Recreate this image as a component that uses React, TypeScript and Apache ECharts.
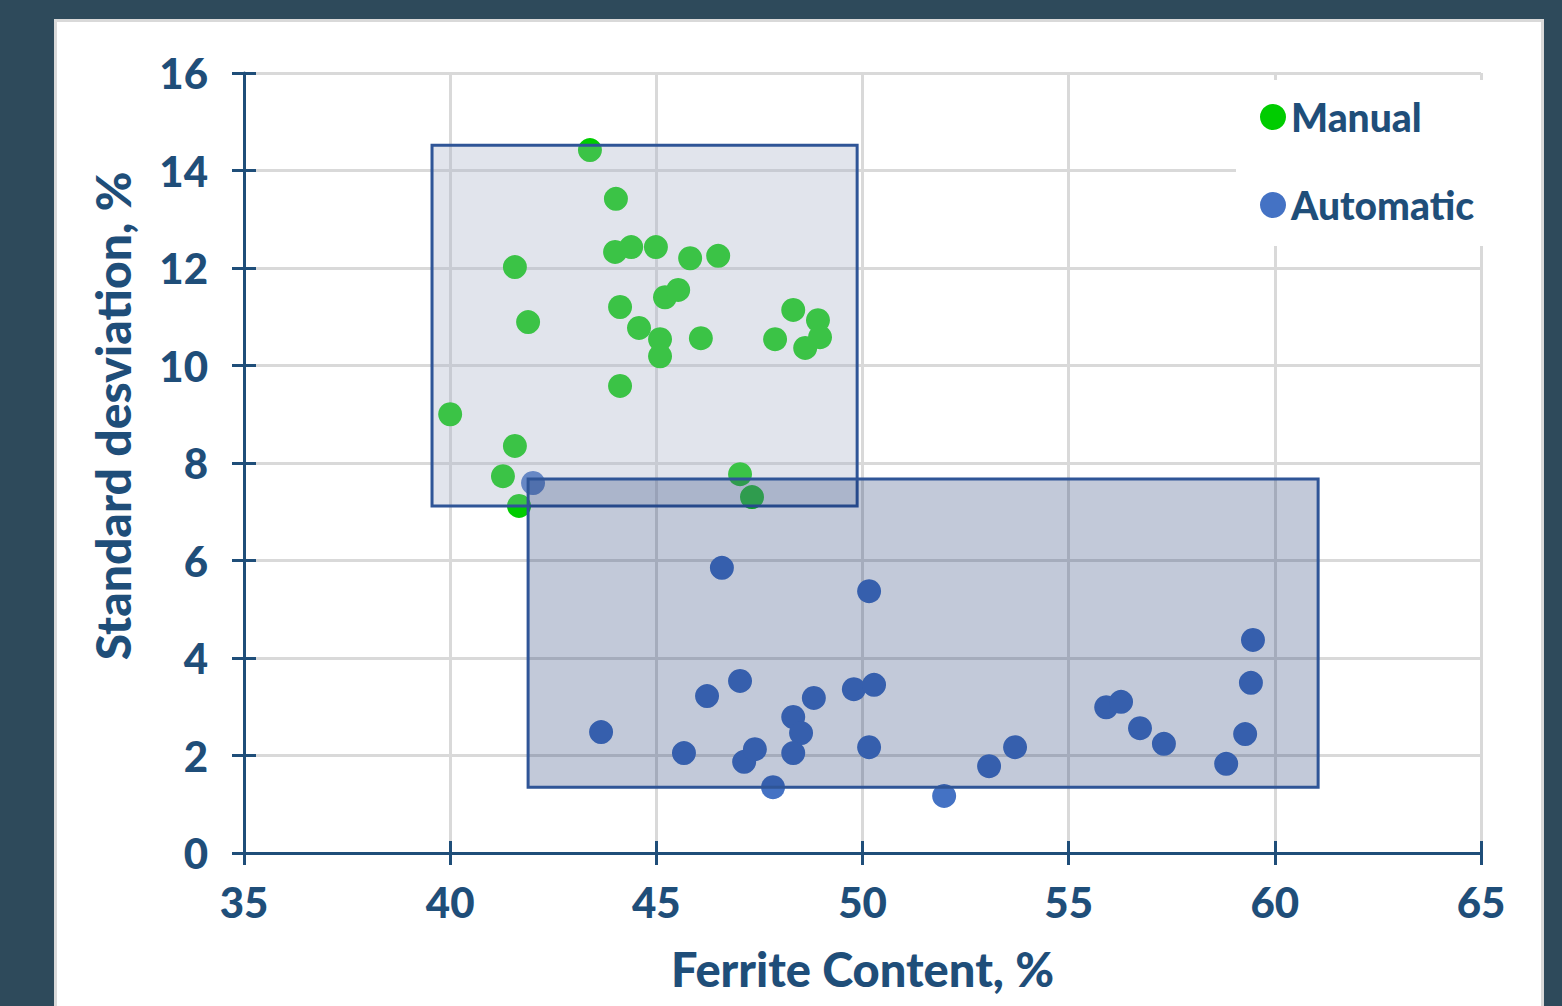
import React, { useEffect, useRef } from "react";
import * as echarts from "echarts";

// Ferrite content (%) vs standard deviation (%)
const manualPoints: number[][] = [
  [43.39, 14.42], [44.02, 13.42], [44.0, 12.33], [44.39, 12.43], [44.99, 12.43],
  [45.82, 12.2], [46.5, 12.25], [41.57, 12.02], [41.89, 10.89], [44.12, 11.2],
  [45.21, 11.4], [45.53, 11.55], [44.58, 10.77], [45.09, 10.54], [45.09, 10.19],
  [46.08, 10.56], [48.32, 11.14], [48.92, 10.93], [47.88, 10.54], [48.61, 10.36],
  [48.97, 10.58], [44.12, 9.58], [40.0, 9.0], [41.57, 8.35], [41.28, 7.73],
  [41.67, 7.12], [47.03, 7.77], [47.32, 7.3],
];

const automaticPoints: number[][] = [
  [42.01, 7.59], [46.59, 5.85], [50.16, 5.37], [43.66, 2.48], [46.23, 3.22],
  [47.03, 3.53], [45.67, 2.05], [47.13, 1.87], [47.39, 2.13], [47.83, 1.35],
  [48.32, 2.79], [48.51, 2.46], [48.32, 2.05], [48.82, 3.18], [49.79, 3.36],
  [50.28, 3.45], [50.16, 2.17], [51.98, 1.17], [53.07, 1.78], [53.7, 2.17],
  [55.91, 2.99], [56.27, 3.1], [56.73, 2.56], [57.31, 2.24], [58.82, 1.83],
  [59.28, 2.44], [59.42, 3.49], [59.47, 4.37],
];

// boxes: [xMin, yMin, xMax, yMax]
const groupBoxes: number[][] = [
  [39.56, 7.12, 49.87, 14.52],
  [41.89, 1.35, 61.05, 7.67],
];

const seriesNames = ["Manual", "Automatic"];
const xTitle = "Ferrite Content, %";
const yTitle = "Standard desviation, %";

const BLUE_TEXT = "#1f4e79";
const FONT = 'Lato, "DejaVu Sans", sans-serif';
const boxFills = ["rgba(170,178,201,0.35)", "rgba(12,40,104,0.25)"];

export default function App() {
  const ref = useRef<HTMLDivElement>(null);

  useEffect(() => {
    if (!ref.current) return;
    const chart = echarts.init(ref.current, null, { renderer: "svg" });

    const axisLine = { show: true, onZero: false, lineStyle: { color: BLUE_TEXT, width: 3 } };
    const labelStyle = { fontSize: 42, fontWeight: 900, color: BLUE_TEXT, fontFamily: FONT };
    const split = { show: true, lineStyle: { color: "#d9d9d9", width: 3 } };

    chart.setOption({
      animation: false,
      backgroundColor: "transparent",
      grid: { left: 244, right: 81, top: 73, bottom: 153, containLabel: false },
      xAxis: [
        {
          type: "value", min: 35, max: 65, interval: 5, position: "bottom",
          axisLine, axisTick: { show: true, inside: false, length: 12, lineStyle: { color: BLUE_TEXT, width: 3 } },
          axisLabel: { ...labelStyle, margin: 28 },
          splitLine: split,
          name: xTitle, nameLocation: "middle", nameGap: 92,
          nameTextStyle: { fontSize: 47, fontWeight: 900, color: BLUE_TEXT, fontFamily: FONT },
        },
        {
          type: "value", min: 35, max: 65, interval: 5, position: "bottom",
          axisLine: { show: false, onZero: false },
          axisTick: { show: true, inside: true, length: 12, lineStyle: { color: BLUE_TEXT, width: 3 } },
          axisLabel: { show: false }, splitLine: { show: false },
        },
      ],
      yAxis: [
        {
          type: "value", min: 0, max: 16, interval: 2, position: "left",
          axisLine, axisTick: { show: true, inside: false, length: 12, lineStyle: { color: BLUE_TEXT, width: 3 } },
          axisLabel: { ...labelStyle, margin: 36 },
          splitLine: split,
        },
        {
          type: "value", min: 0, max: 16, interval: 2, position: "left",
          axisLine: { show: false, onZero: false },
          axisTick: { show: true, inside: true, length: 12, lineStyle: { color: BLUE_TEXT, width: 3 } },
          axisLabel: { show: false }, splitLine: { show: false },
        },
      ],
      legend: {
        data: seriesNames,
        orient: "vertical",
        left: 1236,
        top: 80,
        backgroundColor: "#ffffff",
        padding: [14, 12, 18, 24],
        itemGap: 42,
        itemWidth: 26,
        itemHeight: 26,
        icon: "circle",
        textStyle: { fontSize: 39, fontWeight: 900, color: BLUE_TEXT, fontFamily: FONT, lineHeight: 46 },
      },
      graphic: [
        {
          type: "text",
          x: 112,
          y: 416,
          rotation: Math.PI / 2,
          style: {
            text: yTitle,
            fontSize: 48,
            fontWeight: 900,
            fontFamily: FONT,
            fill: BLUE_TEXT,
            align: "center",
            verticalAlign: "middle",
          },
        },
      ],
      series: [
        {
          name: seriesNames[0],
          type: "scatter",
          data: manualPoints,
          symbol: "circle",
          symbolSize: 24,
          itemStyle: { color: "#00cc00", opacity: 1 },
          z: 2,
        },
        {
          name: seriesNames[1],
          type: "scatter",
          data: automaticPoints,
          symbol: "circle",
          symbolSize: 24,
          itemStyle: { color: "#4472c4", opacity: 1 },
          z: 2,
        },
        {
          type: "custom",
          data: groupBoxes,
          encode: { x: [0, 2], y: [1, 3] },
          z: 5,
          silent: true,
          renderItem: (params: any, api: any) => {
            const p0 = api.coord([api.value(0), api.value(3)]);
            const p1 = api.coord([api.value(2), api.value(1)]);
            return {
              type: "rect",
              shape: { x: p0[0], y: p0[1], width: p1[0] - p0[0], height: p1[1] - p0[1] },
              style: { fill: boxFills[params.dataIndex], stroke: "#2f5597", lineWidth: 3 },
            };
          },
        },
      ],
    });

    return () => chart.dispose();
  }, []);

  return (
    <div style={{ position: "fixed", left: 0, top: 0, width: 1562, height: 1006, background: "#2e4a5b", overflow: "hidden" }}>
      <div
        style={{
          position: "absolute", left: 54, top: 19, width: 1490, height: 1000,
          background: "#ffffff", border: "3px solid #d9d9d9", boxSizing: "border-box",
        }}
      />
      <div ref={ref} style={{ position: "absolute", left: 0, top: 0, width: 1562, height: 1006 }} />
    </div>
  );
}
